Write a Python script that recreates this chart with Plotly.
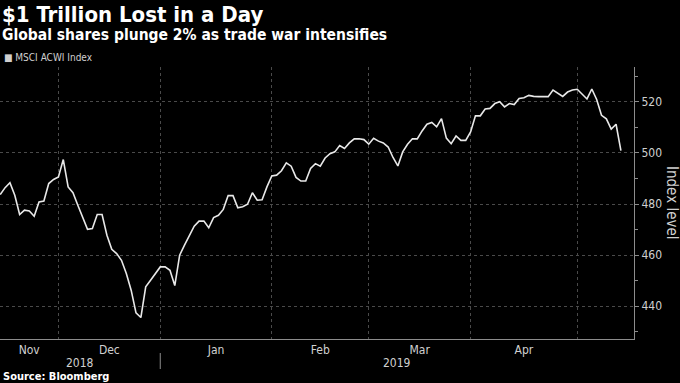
import pandas as pd
import plotly.graph_objects as go

# ---- data ----
dates = pd.bdate_range("2018-11-14", "2019-05-13")
values = [
    483.7, 486.4, 488.3, 483.4, 475.9, 477.6, 477.3, 475.2, 480.8, 481.2,
    488.0, 489.6, 490.6, 497.4, 486.7, 484.4, 479.5, 474.7, 470.1, 470.4,
    475.9, 475.9, 467.8, 462.3, 460.6, 458.0, 452.8, 446.3, 437.4, 435.6,
    447.6, 450.2, 452.8, 455.4, 455.4, 454.1, 448.1, 460.0, 463.9, 467.4,
    471.3, 473.3, 473.3, 470.7, 474.7, 475.6, 477.9, 483.3, 483.3, 478.5,
    478.9, 479.9, 484.4, 481.5, 481.7, 486.7, 491.0, 491.3, 493.0, 496.1,
    494.8, 490.4, 489.0, 489.0, 493.9, 495.8, 494.8, 498.0, 499.7, 500.4,
    502.9, 501.7, 503.9, 505.5, 505.5, 505.2, 503.4, 505.7, 504.6, 503.9,
    502.3, 498.2, 494.9, 500.4, 503.4, 505.5, 505.5, 508.6, 511.2, 511.9,
    510.2, 513.4, 505.8, 503.6, 506.6, 504.9, 504.9, 508.2, 514.5, 514.5,
    517.2, 517.4, 519.3, 520.0, 518.0, 519.3, 518.9, 521.3, 521.6, 522.5,
    522.1, 522.0, 522.0, 522.0, 524.6, 523.3, 522.1, 523.8, 524.6, 524.9,
    523.0, 521.1, 525.0, 520.9, 514.7, 513.3, 509.3, 511.2, 500.9,
]
month_labels = ["Nov", "Dec", "Jan", "Feb", "Mar", "Apr"]
year_labels = ["2018", "2019"]
y_ticks = [440, 460, 480, 500, 520]
series_name = "MSCI ACWI Index"

# ---- derived positions ----
x = list(range(len(dates)))
months = dates.to_period("M")
boundaries = [i - 1 for i in range(1, len(dates)) if months[i] != months[i - 1]]
year_bounds = [i - 1 for i in range(1, len(dates)) if dates[i].year != dates[i - 1].year]
x_range = [-0.05, 130.7]
edges = [x_range[0]] + boundaries + [x_range[1]]
month_mid = [(edges[k] + edges[k + 1]) / 2 for k in range(len(month_labels))]
yedges = [x_range[0]] + year_bounds + [x_range[1]]
year_mid = [(yedges[k] + yedges[k + 1]) / 2 for k in range(len(year_labels))]

FONT = "DejaVu Sans Condensed"
AXIS_COL = "#8c8c8c"
GRID_COL = "#4a4a4a"
TEXT_COL = "#d0d0d0"

fig = go.Figure()
fig.add_trace(go.Scatter(
    x=x, y=values, mode="lines", name=series_name,
    line=dict(color="#e8e8e8", width=1.6), showlegend=False,
    hoverinfo="y",
))

fig.update_layout(
    width=680, height=383, autosize=False,
    paper_bgcolor="black", plot_bgcolor="black",
    margin=dict(l=0, r=46, t=67, b=44),
    font=dict(family=FONT, color=TEXT_COL),
    showlegend=False,
)

fig.update_xaxes(
    range=x_range, tickmode="array", tickvals=month_mid, ticktext=month_labels,
    ticks="", showgrid=False, showline=True, linecolor=AXIS_COL, linewidth=1,
    tickfont=dict(size=12, color=TEXT_COL, family=FONT), zeroline=False,
    minor=dict(tickmode="array", tickvals=boundaries, showgrid=True,
               gridcolor=GRID_COL, griddash="dot", gridwidth=1, ticks=""),
)
fig.update_yaxes(
    side="right", range=[427.2, 533.6], tickmode="array", tickvals=y_ticks,
    ticks="outside", ticklen=4, tickcolor=AXIS_COL,
    showgrid=True, gridcolor=GRID_COL, griddash="dot", gridwidth=1,
    showline=True, linecolor=AXIS_COL, linewidth=1, zeroline=False,
    tickfont=dict(size=12, color=TEXT_COL, family=FONT),
    minor=dict(dtick=10, tick0=430, ticks="outside", ticklen=3, tickcolor=AXIS_COL, showgrid=False),
)

ann = []
ann.append(dict(text="<b>$1 Trillion Lost in a Day</b>", xref="paper", yref="paper",
                x=0, y=1, xanchor="left", yanchor="bottom", xshift=0, yshift=38,
                showarrow=False, font=dict(size=22, color="white", family=FONT)))
ann.append(dict(text="<b>Global shares plunge 2% as trade war intensifies</b>", xref="paper", yref="paper",
                x=0, y=1, xanchor="left", yanchor="bottom", xshift=0, yshift=21,
                showarrow=False, font=dict(size=15.5, color="white", family=FONT)))
ann.append(dict(text="■ " + series_name, xref="paper", yref="paper",
                x=0, y=1, xanchor="left", yanchor="bottom", xshift=2, yshift=2,
                showarrow=False, font=dict(size=10, color=TEXT_COL, family=FONT)))
ann.append(dict(text="Index level", xref="paper", yref="paper", x=1, y=0.5,
                xanchor="center", yanchor="middle", xshift=38, textangle=90,
                showarrow=False, font=dict(size=15, color=TEXT_COL, family=FONT)))
for lab, xm in zip(year_labels, year_mid):
    ann.append(dict(text=lab, xref="x", yref="paper", x=xm, y=0, yanchor="middle",
                    xanchor="center", yshift=-24, showarrow=False,
                    font=dict(size=12, color=TEXT_COL, family=FONT)))
ann.append(dict(text="<b>Source: Bloomberg</b>", xref="paper", yref="paper",
                x=0, y=0, xanchor="left", yanchor="middle", xshift=1, yshift=-37,
                showarrow=False, font=dict(size=11, color="white", family=FONT)))
fig.update_layout(annotations=ann)

for yb in year_bounds:
    fig.add_shape(type="line", xref="x", yref="paper", x0=yb, x1=yb,
                  y0=-14 / 272, y1=-30 / 272, line=dict(color=AXIS_COL, width=1))

fig.write_html(
    "out.html",
    config={"displayModeBar": False},
    post_script="document.body.style.margin='0';document.body.style.background='black';"
                "document.body.style.overflow='hidden';",
)
